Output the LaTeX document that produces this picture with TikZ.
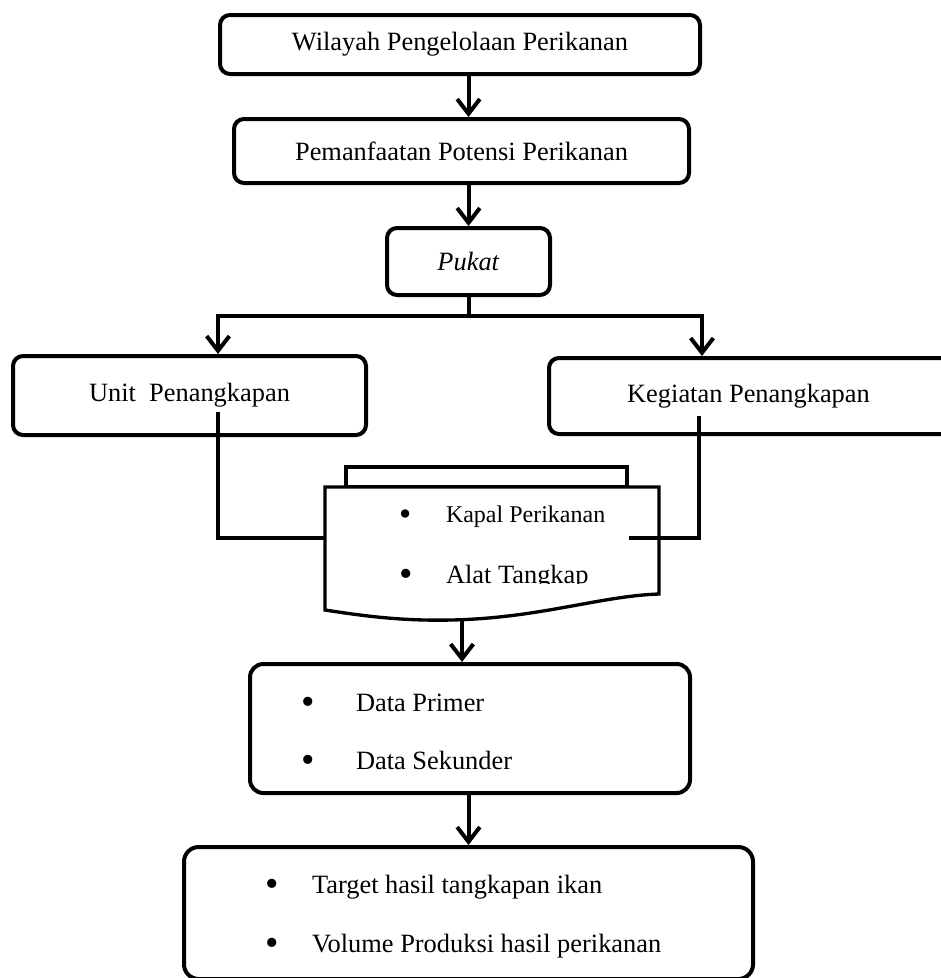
\documentclass[tikz,border=0pt]{standalone}
\usepackage{fontspec}
\setmainfont{Liberation Serif}
\usetikzlibrary{arrows.meta}
\newcommand{\itm}[2]{\makebox[#1][l]{\raisebox{-0.13em}{\scalebox{1.45}{\textbullet}}}#2}

\begin{document}
\begin{tikzpicture}[x=0.75pt, y=-0.75pt, line width=3pt,
		font=\fontsize{19.8}{24}\selectfont,
		>={Straight Barb[length=11pt,width=17pt]},
		box/.style = {draw, rounded corners=7.5pt, align=center},
		item/.style = {inner sep=0pt, anchor=base west}]
		\useasboundingbox (0,0) rectangle (940,978);
		\node[box, minimum width=360pt, minimum height=44.25pt] (wpp) at (460,44.5) {Wilayah Pengelolaan Perikanan};
		\node[box, minimum width=341.25pt, minimum height=48pt] (pot) at (461.5,151) {Pemanfaatan Potensi Perikanan};
		\node[box, minimum width=122.25pt, minimum height=50.25pt] (pukat) at (468.5,261.5) {\textit{Pukat}};
		\node[box, minimum width=264.75pt, minimum height=59.25pt] (unit) at (189.5,395.5) {Unit\ \ Penangkapan};
		\node[box, minimum width=338.25pt, minimum height=57pt] (keg) at (774.5,396) {};
		\node (kegtxt) at (748.5,396) {Kegiatan Penangkapan};
		% document shape
		\node[draw, line width=2.5pt, minimum width=210.75pt, minimum height=15pt] (docback) at (486.5,477) {};
		\node[outer sep=0pt, minimum width=250.5pt, minimum height=92.25pt] (doc) at (492,548.5) {};
		\draw[line width=2.5pt, fill=white] (doc.north west) -- (doc.north east) -- (659,594)
			.. controls (600,596) and (540,618) .. (452,620)
			.. controls (405,621) and (370,617) .. (doc.south west) -- cycle;
		\node[item, font=\fontsize{18}{22}\selectfont] (kp) at (397,522) {\itm{35.25pt}{Kapal Perikanan}};
		\begin{scope}
			\clip (325,487) rectangle (659,583);
			\node[item] (alat) at (397,583) {\itm{35.25pt}{Alat Tangkap}};
		\end{scope}
		\node[box, rounded corners=10pt, minimum width=330pt, minimum height=96.75pt] (data) at (470,728.5) {};
		\node[item] (dp) at (299,711) {\itm{41.25pt}{Data Primer}};
		\node[item] (ds) at (299,769) {\itm{41.25pt}{Data Sekunder}};
		\node[box, rounded corners=11pt, minimum width=426.75pt, minimum height=99pt] (target) at (468.5,913) {};
		\node[item] (tg) at (263,893) {\itm{35.25pt}{Target hasil tangkapan ikan}};
		\node[item] (vp) at (263,952) {\itm{35.25pt}{Volume Produksi hasil perikanan}};
		% connectors
		\coordinate (split) at (pukat.south |- 0,316);
		\coordinate (uin) at (218,412);
		\coordinate (kin) at (699,416);
		\coordinate (kend) at (629,538);
		\coordinate (wave) at (462,619);
		\draw[->] (wpp.south -| pukat) -- (pot.north -| pukat);
		\draw[->] (pot.south -| pukat) -- (pukat);
		\draw (pukat.south) -- (split);
		\draw[->] (split) -| (unit.north -| wpp.west);
		\draw[->] (split) -| (keg.north -| wpp.east);
		\draw (uin) |- (doc.west |- kend);
		\draw (kin) |- (kend);
		\draw[->] (wave) -- (data.north -| wave);
		\draw[->] (data.south -| pukat) -- (target.north -| pukat);
	\end{tikzpicture}
\end{document}
